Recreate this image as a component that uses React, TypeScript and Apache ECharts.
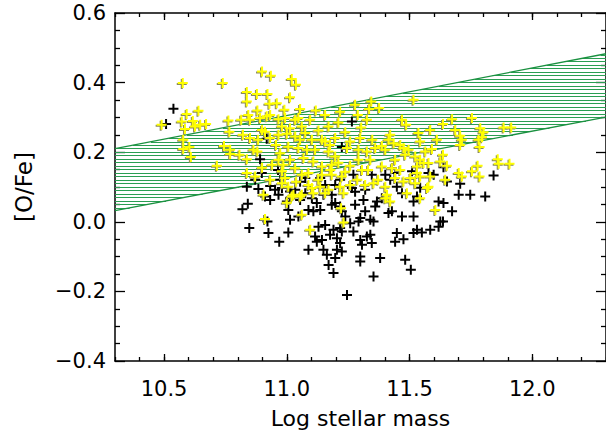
import React, { useEffect, useRef } from 'react';
import * as echarts from 'echarts';

const X_MIN = 10.3;
const X_MAX = 12.3;
const Y_MIN = -0.4;
const Y_MAX = 0.6;
const xMajorTicks = [10.5, 11.0, 11.5, 12.0];
const xAxisTitle = 'Log stellar mass';
const yAxisTitle = '[O/Fe]';

// hatched band edges (x, [O/Fe])
const bandUpper = [[10.3, 0.21], [12.3, 0.483]];
const bandLower = [[10.3, 0.032], [12.3, 0.301]];
const hatchStep = 0.01;

const yellowPoints = [
  [10.576,0.399],[10.739,0.399],[10.899,0.432],[10.935,0.420],[10.837,0.373],[10.878,0.367],[10.921,0.367],[10.837,0.346],[10.929,0.339],[10.880,0.320],
  [10.592,0.310],[10.640,0.319],[10.572,0.288],[10.617,0.290],[10.490,0.279],[10.585,0.267],[10.626,0.274],[10.647,0.279],[10.671,0.281],[10.762,0.291],
  [10.843,0.307],[10.814,0.293],[10.850,0.293],[10.891,0.298],[10.918,0.303],[10.932,0.307],[10.766,0.259],[10.578,0.236],[10.578,0.209],[10.603,0.215],
  [10.609,0.186],[10.744,0.218],[10.769,0.207],[10.769,0.195],[10.821,0.250],[10.850,0.241],[10.807,0.193],[10.837,0.180],[10.864,0.207],[10.880,0.202],
  [10.715,0.161],[10.911,0.259],[10.932,0.241],[10.837,0.140],[10.871,0.130],
  [11.020,0.410],[11.037,0.394],[11.013,0.358],[10.959,0.341],[10.990,0.322],[11.344,0.346],[11.376,0.327],[11.335,0.324],[11.118,0.320],[11.054,0.324],
  [11.289,0.307],[11.326,0.293],[11.303,0.271],[11.210,0.285],[11.170,0.274],[11.129,0.262],[10.966,0.295],[10.993,0.298],[11.034,0.293],[11.047,0.298],
  [10.980,0.274],[11.013,0.269],[11.061,0.274],[10.966,0.250],[11.000,0.253],[11.034,0.245],[11.075,0.255],[11.102,0.236],[11.143,0.236],[11.156,0.231],
  [11.197,0.241],[11.238,0.257],[11.258,0.231],[11.245,0.212],[11.421,0.250],[11.414,0.236],[11.435,0.226],[11.292,0.207],[11.326,0.202],[11.360,0.212],
  [11.387,0.218],[11.401,0.207],[11.006,0.216],[11.047,0.212],[11.082,0.207],[10.973,0.197],[11.115,0.207],[11.170,0.202],[11.197,0.188],[11.013,0.178],
  [10.966,0.178],[10.986,0.164],[11.068,0.183],[11.108,0.173],[11.143,0.159],[11.183,0.164],[11.210,0.170],[11.258,0.161],[11.292,0.178],[11.340,0.178],
  [11.306,0.149],[11.387,0.159],[11.428,0.154],[11.034,0.154],[10.980,0.145],[11.061,0.135],[11.088,0.140],[11.143,0.135],[11.183,0.135],[11.224,0.130],
  [11.516,0.351],[11.469,0.293],[11.486,0.279],[11.673,0.295],[11.754,0.298],[11.636,0.281],[11.584,0.264],[11.536,0.255],[11.686,0.264],[11.706,0.247],
  [11.713,0.236],[11.706,0.221],[11.611,0.236],[11.543,0.231],[11.788,0.269],[11.801,0.257],[11.781,0.236],[11.795,0.243],[11.785,0.215],[11.883,0.271],
  [11.914,0.271],[11.591,0.209],[11.564,0.202],[11.462,0.221],[11.475,0.212],[11.496,0.207],[11.482,0.193],[11.523,0.188],[11.543,0.178],[11.557,0.169],
  [11.530,0.159],[11.577,0.169],[11.636,0.193],[11.625,0.173],[11.652,0.161],[11.859,0.180],[11.863,0.167],[11.907,0.167],[11.777,0.161],[11.754,0.145],
  [11.700,0.140],[11.713,0.130],[11.785,0.130],[11.530,0.140],[11.584,0.130],[11.543,0.130],
  [10.911,0.008],[10.905,0.078],[11.000,0.055],[11.020,0.073],[11.061,0.078],[11.061,0.020],[11.221,0.039],[11.231,-0.002],[11.095,-0.023],[11.408,0.078],
  [11.401,0.068],[11.421,0.058],[11.319,0.106],[11.353,0.111],[11.401,0.101],[10.980,0.111],[11.006,0.101],[11.027,0.078],[11.054,0.073],[11.088,0.106],
  [11.102,0.097],[11.108,0.082],[11.136,0.101],[11.156,0.082],[11.170,0.092],[11.217,0.101],[11.231,0.082],[11.475,0.116],[11.523,0.111],[11.577,0.101],
  [11.571,0.097],[11.489,0.082],[11.543,0.068],[11.605,0.034],[10.932,0.121],[10.899,0.155],[11.258,0.106],[11.441,0.126],[11.645,0.121],
  [10.940,0.164],[10.993,0.126],[11.038,0.115],[11.128,0.121],[11.177,0.149],[11.238,0.144],[11.287,0.121],[11.331,0.149],[11.372,0.121],[11.441,0.178],
  [11.462,0.149],[11.503,0.126],[10.956,0.221],[11.054,0.236],[11.176,0.221],[11.299,0.241],[11.348,0.236],[11.095,0.293],[11.156,0.307],[11.217,0.316],
  [11.278,0.336],[10.899,0.264],[10.883,0.236],
];

const blackPoints = [
  [10.538,0.325],[10.508,0.281],[10.891,0.180],[10.898,0.140],[10.918,0.239],[11.265,0.288],[11.224,0.215],[11.013,0.178],[10.964,0.149],[11.271,0.135],
  [11.346,0.135],[11.401,0.135],[11.428,0.154],[11.441,0.140],[11.638,0.157],[11.510,0.145],[11.577,0.140],[11.598,0.135],[11.842,0.133],[10.837,0.101],
  [10.884,0.094],[10.911,0.073],[10.841,0.052],[10.819,0.036],[10.847,-0.018],[10.921,0.001],[10.925,-0.032],[10.969,-0.057],[11.006,-0.031],[11.013,0.006],
  [11.006,0.034],[11.000,0.058],[11.013,0.068],[10.966,0.078],[10.980,0.097],[11.047,0.015],[11.088,0.034],[11.108,0.030],[11.136,0.034],[11.088,-0.080],
  [11.129,-0.014],[11.156,-0.009],[11.115,-0.042],[11.122,-0.057],[11.143,-0.052],[11.149,-0.080],[11.163,-0.095],[11.170,-0.124],[11.190,-0.147],[11.197,-0.104],
  [11.204,-0.080],[11.217,-0.061],[11.224,-0.085],[11.176,-0.037],[11.190,-0.023],[11.204,-0.047],[11.197,0.054],[11.183,0.049],[11.217,0.044],[11.224,0.030],
  [11.238,0.015],[11.217,-0.018],[11.224,-0.028],[11.271,-0.028],[11.258,-0.004],[11.292,0.001],[11.299,0.011],[11.319,0.030],[11.340,0.006],[11.353,0.001],
  [11.299,-0.052],[11.306,-0.066],[11.326,-0.042],[11.346,-0.061],[11.340,-0.037],[11.299,-0.100],[11.299,-0.114],[11.380,-0.104],[11.353,-0.157],[11.245,-0.210],
  [11.414,0.025],[11.428,0.030],[11.448,-0.032],[11.441,-0.057],[11.265,0.097],[11.312,0.063],[11.367,0.058],[11.387,0.068],[11.360,0.044],[11.448,0.101],
  [10.952,0.092],[11.034,0.092],[11.013,0.087],[11.075,0.082],[11.102,0.068],[11.122,0.054],[11.149,0.078],[11.183,0.078],[11.652,0.116],[11.469,0.082],
  [11.516,0.058],[11.530,0.073],[11.618,0.058],[11.638,0.054],[11.700,0.078],[11.747,0.078],[11.808,0.073],[11.673,0.030],[11.469,0.015],[11.516,0.015],
  [11.636,0.001],[11.618,-0.014],[11.530,-0.023],[11.550,-0.031],[11.516,-0.032],[11.584,-0.023],[11.475,-0.050],[11.482,-0.109],[11.505,-0.138],[11.625,0.001],
  [11.054,0.115],[11.136,0.126],[11.197,0.106],[10.932,0.103],[11.278,0.086],[11.706,0.109],[10.871,0.121],
  [10.973,0.121],[11.075,0.126],[11.217,0.121],[11.319,0.092],[11.421,0.121],[11.054,0.063],[11.156,0.106],[10.932,0.063],[11.278,0.049],[11.543,0.098],
];

const PLUS = 'path://M4,0H6V4H10V6H6V10H4V6H0V4H4Z';
const FONT = 'DejaVu Sans';

function xAtY(line: number[][], y: number) {
  const s = (line[1][1] - line[0][1]) / (line[1][0] - line[0][0]);
  return line[0][0] + (y - line[0][1]) / s;
}

function buildHatch() {
  const segs: any[] = [];
  const yLo = Math.min(bandLower[0][1], bandLower[1][1]);
  const yHi = Math.max(bandUpper[0][1], bandUpper[1][1]);
  const k0 = Math.ceil(yLo / hatchStep);
  const k1 = Math.floor(yHi / hatchStep);
  for (let k = k0; k <= k1; k++) {
    const y = k * hatchStep;
    const x1 = Math.max(X_MIN, xAtY(bandUpper, y));
    const x2 = Math.min(X_MAX, xAtY(bandLower, y));
    if (x2 > x1) segs.push({ coords: [[x1, y], [x2, y]] });
  }
  return segs;
}

export default function App() {
  const ref = useRef<HTMLDivElement>(null);
  useEffect(() => {
    document.body.style.margin = '0';
    const chart = echarts.init(ref.current!, null, { renderer: 'svg' });
    const black = '#000';
    const gridRect = { left: 115, right: 0, top: 13, bottom: 69, outerBoundsMode: 'none', containLabel: false };
    const xBase: any = { type: 'value', min: X_MIN, max: X_MAX, splitLine: { show: false } };
    const yBase: any = { type: 'value', min: Y_MIN, max: Y_MAX, interval: 0.2, splitLine: { show: false } };
    chart.setOption({
      animation: false,
      backgroundColor: '#fff',
      grid: [
        { ...gridRect },
        { ...gridRect },
      ],
      xAxis: [
        {
          ...xBase, gridIndex: 0, position: 'bottom',
          axisLine: { show: true, onZero: false, lineStyle: { color: black, width: 1.5 } },
          axisTick: { show: true, inside: true, length: 7, customValues: xMajorTicks, lineStyle: { color: black, width: 1.3 } },
          axisLabel: {
            show: true, customValues: xMajorTicks, margin: 17, color: black, fontFamily: FONT, fontSize: 21,
            formatter: (v: number) => v.toFixed(1),
          },
          name: xAxisTitle, nameLocation: 'middle', nameGap: 46,
          nameTextStyle: { color: black, fontFamily: FONT, fontSize: 22 },
        },
        {
          ...xBase, gridIndex: 0, position: 'top',
          axisLine: { show: true, onZero: false, lineStyle: { color: black, width: 1.5 } },
          axisTick: { show: true, inside: true, length: 7, customValues: xMajorTicks, lineStyle: { color: black, width: 1.3 } },
          axisLabel: { show: false },
        },
        {
          ...xBase, gridIndex: 1, position: 'bottom', interval: 0.1,
          axisLine: { show: false, onZero: false },
          axisTick: { show: true, inside: true, length: 4, lineStyle: { color: black, width: 1.3 } },
          axisLabel: { show: false },
        },
        {
          ...xBase, gridIndex: 1, position: 'top', interval: 0.1,
          axisLine: { show: false, onZero: false },
          axisTick: { show: true, inside: true, length: 4, lineStyle: { color: black, width: 1.3 } },
          axisLabel: { show: false },
        },
      ],
      yAxis: [
        {
          ...yBase, gridIndex: 0, position: 'left',
          axisLine: { show: true, onZero: false, lineStyle: { color: black, width: 1.5 } },
          axisTick: { show: true, inside: true, length: 10, lineStyle: { color: black, width: 1.3 } },
          minorTick: { show: true, splitNumber: 4, length: 5, lineStyle: { color: black, width: 1.3 } },
          axisLabel: {
            show: true, margin: 9, color: black, fontFamily: FONT, fontSize: 21,
            formatter: (v: number) => (v < 0 ? '\u2212' : '') + Math.abs(v).toFixed(1),
          },
          name: yAxisTitle, nameLocation: 'middle', nameGap: 80, nameRotate: 90,
          nameTextStyle: { color: black, fontFamily: FONT, fontSize: 23 },
        },
        {
          ...yBase, gridIndex: 0, position: 'right',
          axisLine: { show: true, onZero: false, lineStyle: { color: black, width: 1.5 } },
          axisTick: { show: true, inside: true, length: 10, lineStyle: { color: black, width: 1.3 } },
          minorTick: { show: true, splitNumber: 4, length: 5, lineStyle: { color: black, width: 1.3 } },
          axisLabel: { show: false },
        },
        { ...yBase, gridIndex: 1, show: false },
      ],
      series: [
        {
          type: 'lines', coordinateSystem: 'cartesian2d', xAxisIndex: 0, yAxisIndex: 0,
          silent: true, z: 1,
          lineStyle: { color: '#2a9e52', width: 1, opacity: 1 },
          data: buildHatch(),
        },
        {
          type: 'line', xAxisIndex: 0, yAxisIndex: 0, data: bandUpper, symbol: 'none', z: 2,
          lineStyle: { color: '#1a9140', width: 1.3 },
        },
        {
          type: 'line', xAxisIndex: 0, yAxisIndex: 0, data: bandLower, symbol: 'none', z: 2,
          lineStyle: { color: '#1a9140', width: 1.3 },
        },
        {
          type: 'scatter', xAxisIndex: 0, yAxisIndex: 0, data: blackPoints, z: 3,
          symbol: PLUS, symbolSize: 10, itemStyle: { color: '#000', opacity: 1 },
        },
        {
          type: 'scatter', xAxisIndex: 0, yAxisIndex: 0, data: yellowPoints, z: 4,
          symbol: PLUS, symbolSize: 10, symbolOffset: [-1, 1], itemStyle: { color: '#8a8a5a', opacity: 1 },
        },
        {
          type: 'scatter', xAxisIndex: 0, yAxisIndex: 0, data: yellowPoints, z: 5,
          symbol: PLUS, symbolSize: 10, itemStyle: { color: '#ffff00', opacity: 1 },
        },
      ],
    });
    return () => chart.dispose();
  }, []);
  return <div ref={ref} style={{ width: 606, height: 430 }} />;
}
